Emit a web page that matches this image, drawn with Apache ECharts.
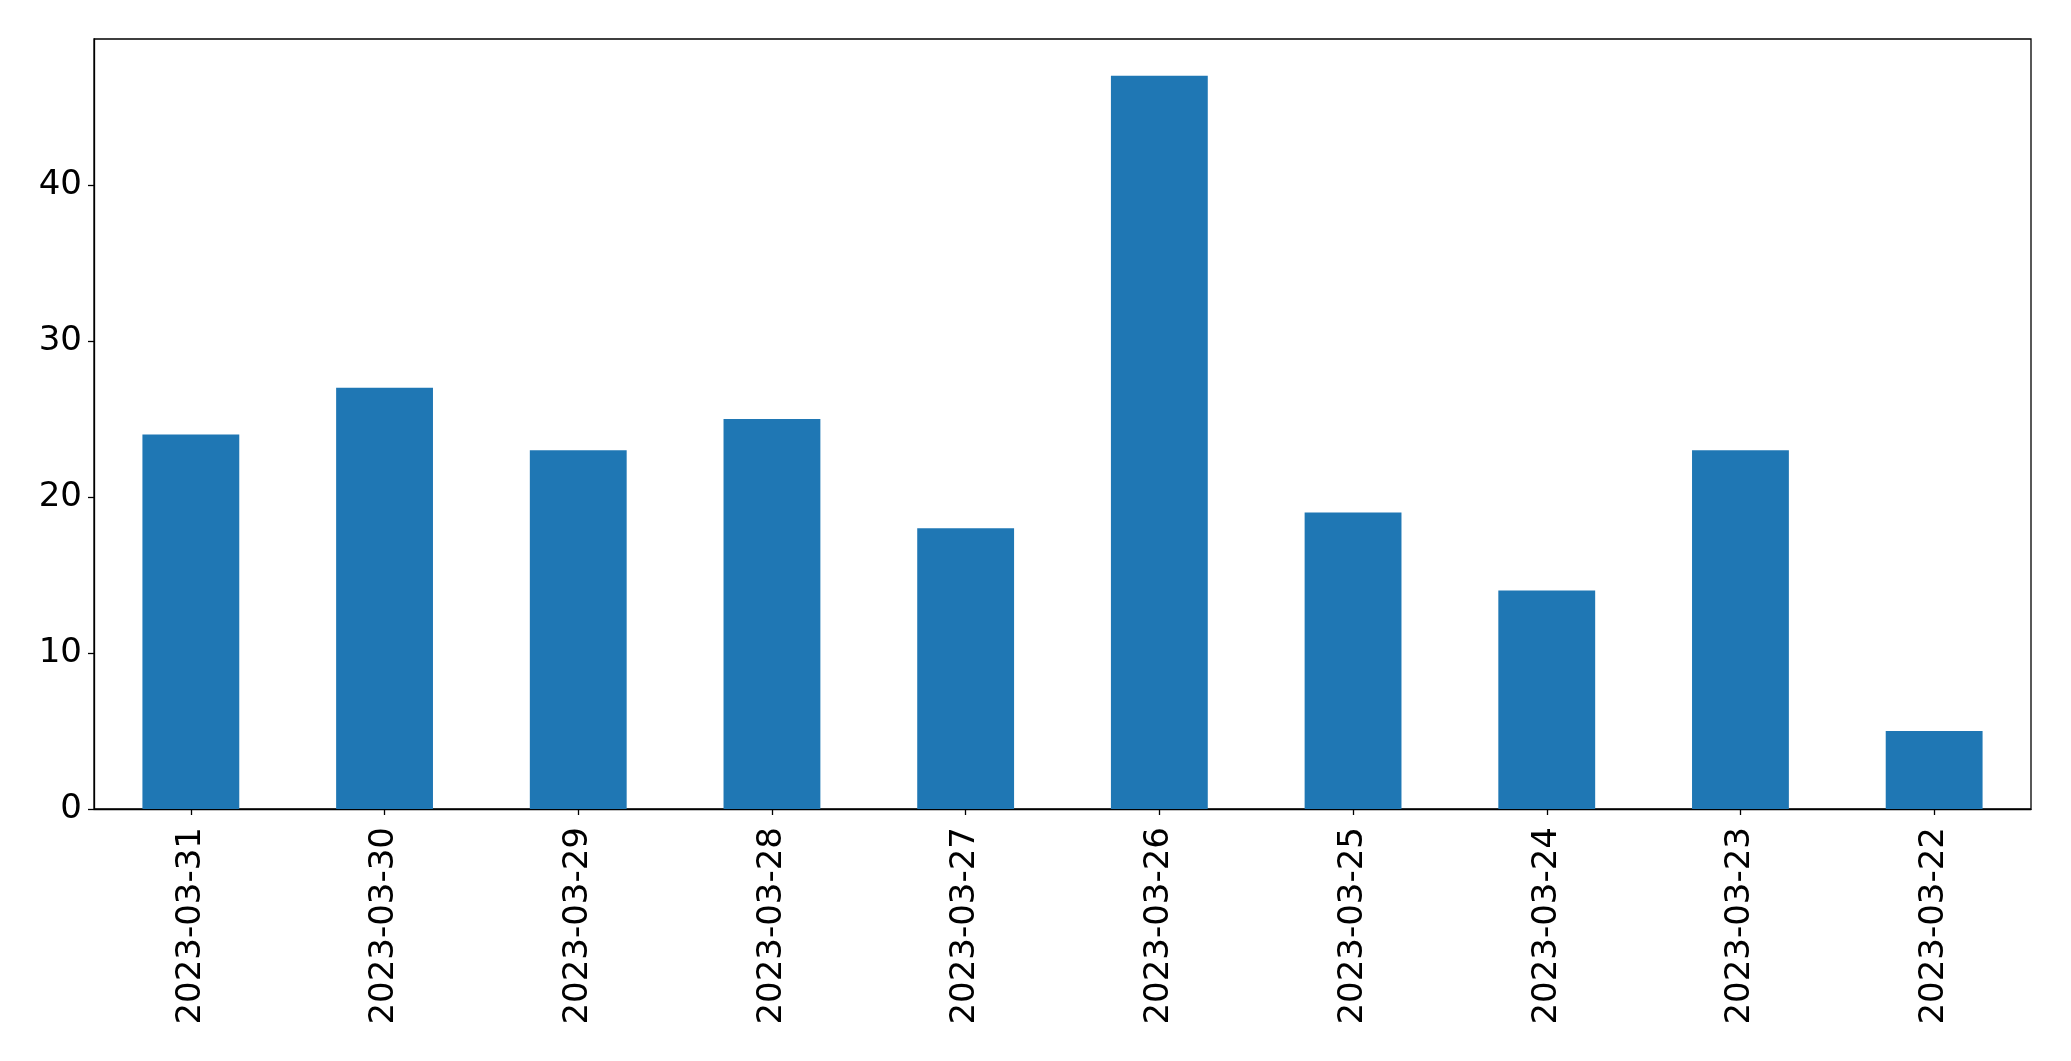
<!DOCTYPE html>
<html><head><meta charset="utf-8">
<script src="https://cdn.jsdelivr.net/npm/echarts@6/dist/echarts.min.js"></script>
<style>html,body{margin:0;padding:0;background:#fff}#c{width:2071px;height:1061px}</style>
</head><body><div id="c"></div>
<script>
const categories = ["2023-03-31","2023-03-30","2023-03-29","2023-03-28","2023-03-27","2023-03-26","2023-03-25","2023-03-24","2023-03-23","2023-03-22"];
const values = [24, 27, 23, 25, 18, 47, 19, 14, 23, 5];
const yTicks = [0, 10, 20, 30, 40];

const chart = echarts.init(document.getElementById('c'), null, {renderer: 'canvas'});
chart.setOption({
  animation: false,
  backgroundColor: '#fff',
  grid: {left: 94, right: 40, top: 39, bottom: 252, show: true, borderColor: '#000', borderWidth: 1.3, containLabel: false},
  xAxis: {
    type: 'category', data: categories,
    axisLine: {show: true, lineStyle: {color: '#000', width: 1.3}},
    axisTick: {show: true, alignWithLabel: true, length: 6, lineStyle: {color: '#000', width: 1.3}},
    axisLabel: {rotate: 90, margin: 18, color: '#000', fontSize: 34, fontFamily: 'DejaVu Sans', interval: 0},
    splitLine: {show: false}
  },
  yAxis: {
    type: 'value', min: 0, max: 49.35, interval: 10,
    axisLine: {show: true, lineStyle: {color: '#000', width: 1.3}},
    axisTick: {show: true, length: 6, lineStyle: {color: '#000', width: 1.3}},
    axisLabel: {margin: 12, color: '#000', fontSize: 34, fontFamily: 'DejaVu Sans', showMaxLabel: false,
      formatter: v => yTicks.includes(v) ? String(v) : ''},
    splitLine: {show: false}
  },
  series: [{type: 'bar', data: values, barWidth: '50%', itemStyle: {color: '#1f77b4'}}]
});
</script></body></html>
